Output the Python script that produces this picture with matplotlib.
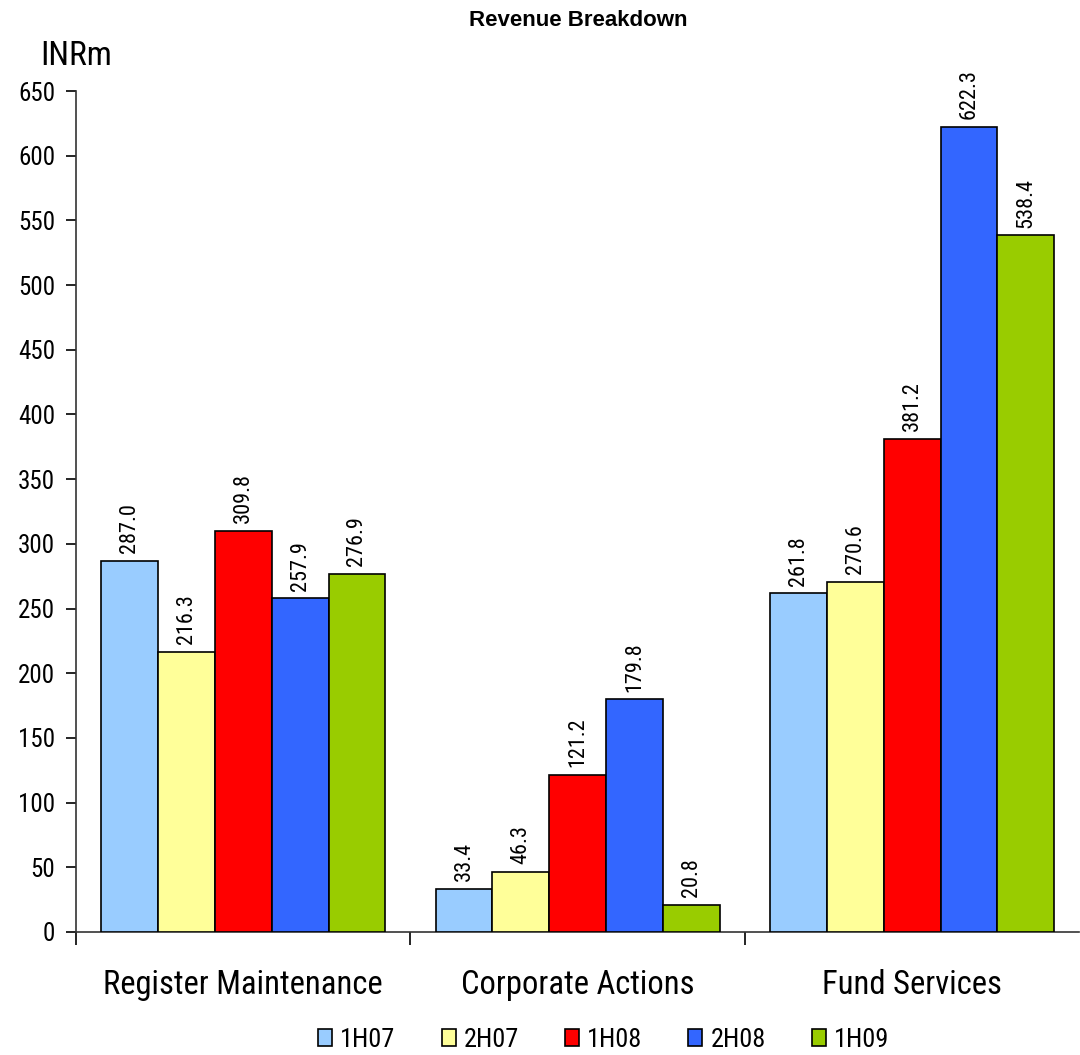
import matplotlib.pyplot as plt
import numpy as np

# Data
categories = ["Register Maintenance", "Corporate Actions", "Fund Services"]
periods = ["1H07", "2H07", "1H08", "2H08", "1H09"]
v_1h07 = [287.0, 33.4, 261.8]
v_2h07 = [216.3, 46.3, 270.6]
v_1h08 = [309.8, 121.2, 381.2]
v_2h08 = [257.9, 179.8, 622.3]
v_1h09 = [276.9, 20.8, 538.4]
series = [v_1h07, v_2h07, v_1h08, v_2h08, v_1h09]
colors = ["#99CCFF", "#FFFF99", "#FF0000", "#3366FF", "#99CC00"]

plt.rcParams['font.family'] = ['Roboto Condensed', 'DejaVu Sans']

fig = plt.figure(figsize=(10.8, 10.55), dpi=100)
ax = fig.add_axes([0.0704, 0.1166, 0.929, 0.7971])

x = np.arange(len(categories))
w = 0.17
for i, (vals, c) in enumerate(zip(series, colors)):
    pos = x + (i - 2) * w
    bars = ax.bar(pos, vals, width=w, color=c, edgecolor="black", linewidth=1.2,
                  label=periods[i], zorder=3)
    for b, v in zip(bars, vals):
        ax.text(b.get_x() + b.get_width() / 2, v + 6, f"{v:.1f}", rotation=90,
                ha="center", va="bottom", fontsize=16)

ax.set_xlim(-0.5, 2.5)
ax.set_ylim(0, 650)
ax.set_yticks(range(0, 651, 50))
ax.tick_params(axis="y", labelsize=18, length=7, direction="out", width=1.2, pad=8)
ax.set_xticks(x)
ax.set_xticklabels(categories, fontsize=23.5)
ax.tick_params(axis="x", length=0, pad=27)
ax.set_xticks([-0.5, 0.5, 1.5], minor=True)
ax.tick_params(axis="x", which="minor", length=9, width=1.2, direction="out")

for s in ["top", "right"]:
    ax.spines[s].set_visible(False)
for s in ["left", "bottom"]:
    ax.spines[s].set_linewidth(1.2)
    ax.spines[s].set_color("#333333")

fig.text(0.535, 0.981, "Revenue Breakdown", ha="center", va="center",
         fontsize=16, fontweight="bold", family=["Liberation Sans", "DejaVu Sans"])
fig.text(0.037, 0.947, "INRm", ha="left", va="center", fontsize=24)

ax.legend(loc="center", bbox_to_anchor=(0.526, -0.128), ncol=5, frameon=False,
          fontsize=19, handlelength=0.53, handleheight=0.65, columnspacing=1.75,
          handletextpad=0.3)

plt.savefig("out.png", dpi=100)
plt.close()
